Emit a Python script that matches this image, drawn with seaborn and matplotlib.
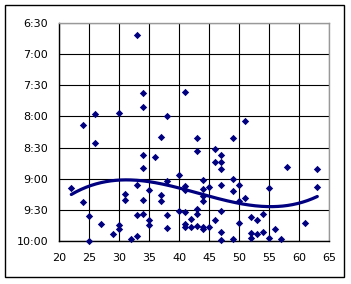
import numpy as np
import pandas as pd
import matplotlib
matplotlib.use("Agg")
import matplotlib.pyplot as plt
from matplotlib.patches import Rectangle
import seaborn as sns

ages = [24, 26, 30, 33, 34, 34, 38, 41, 51, 37, 43, 49, 26, 34, 36, 34, 43, 46, 47, 46,
        47, 47, 58, 63, 40, 38, 44, 49, 22, 33, 35, 31, 31, 34, 37, 37, 41, 41, 44, 45,
        47, 50, 49, 44, 44, 51, 50, 55, 63, 24, 43, 43, 47, 40, 41, 33, 34, 38, 25, 35,
        35, 27, 30, 30, 29, 32, 33, 25, 38, 42, 41, 41, 42, 43, 44, 44, 45, 46, 50, 52,
        53, 54, 47, 47, 49, 52, 52, 53, 54, 55, 56, 57, 61]
times = ["8:08", "7:58", "7:57", "6:41", "7:37", "7:51", "8:00", "7:36", "8:04", "8:20",
         "8:21", "8:21", "8:26", "8:37", "8:39", "8:50", "8:33", "8:31", "8:37", "8:44",
         "8:44", "8:51", "8:49", "8:51", "8:57", "9:02", "9:01", "9:00", "9:09", "9:06",
         "9:11", "9:15", "9:21", "9:21", "9:16", "9:22", "9:07", "9:11", "9:10", "9:08",
         "9:06", "9:06", "9:12", "9:17", "9:22", "9:19", "9:22", "9:09", "9:08", "9:23",
         "9:29", "9:34", "9:31", "9:31", "9:32", "9:35", "9:34", "9:35", "9:36", "9:40",
         "9:45", "9:44", "9:45", "9:49", "9:54", "9:58", "9:55", "10:00", "9:48", "9:39",
         "9:44", "9:47", "9:47", "9:46", "9:47", "9:49", "9:47", "9:40", "9:43", "9:37",
         "9:40", "9:34", "9:52", "9:59", "9:58", "9:53", "9:57", "9:54", "9:52", "9:57",
         "9:49", "9:58", "9:43"]
x_ticks = [20, 25, 30, 35, 40, 45, 50, 55, 60, 65]
y_tick_labels = ["6:30", "7:00", "7:30", "8:00", "8:30", "9:00", "9:30", "10:00"]


def to_min(s):
    h, m = s.split(":")
    return int(h) * 60 + int(m)


df = pd.DataFrame({"age": ages, "minutes": [to_min(t) for t in times]})
y_ticks = [to_min(t) for t in y_tick_labels]

sns.set_style("white")
plt.rcParams["font.family"] = ["DejaVu Sans"]

fig = plt.figure(figsize=(3.51, 2.84), dpi=100)
fig.patch.set_facecolor("white")
ax = fig.add_axes([59.3 / 351, 1 - 240.7 / 284, (329.3 - 59.3) / 351, (240.7 - 23.3) / 284])

navy = "#000080"
# trend line: cubic polynomial fit (Excel-style trendline)
coef = np.polyfit(df["age"], df["minutes"], 3)
xs = np.linspace(df["age"].min(), df["age"].max(), 200)
trend = pd.DataFrame({"age": xs, "minutes": np.polyval(coef, xs)})
sns.lineplot(data=trend, x="age", y="minutes", ax=ax, color=navy, linewidth=2.3,
             zorder=3, sort=False)

sns.scatterplot(data=df, x="age", y="minutes", ax=ax, marker="D", s=14, color=navy,
                linewidth=0, zorder=4, clip_on=False)

ax.set_xlim(20, 65)
ax.set_ylim(y_ticks[-1], y_ticks[0])
ax.set_xticks(x_ticks)
ax.set_xticklabels([str(v) for v in x_ticks])
ax.set_yticks(y_ticks)
ax.set_yticklabels(y_tick_labels)
ax.set_xlabel("")
ax.set_ylabel("")
ax.grid(True, color="black", linewidth=0.8)
ax.set_axisbelow(True)
ax.tick_params(axis="both", length=0, labelsize=8, colors="black")
ax.tick_params(axis="x", pad=9)
ax.tick_params(axis="y", pad=8)
for side in ["left", "bottom"]:
    ax.spines[side].set_color("black")
    ax.spines[side].set_linewidth(1.0)
    ax.spines[side].set_visible(True)
for side in ["top", "right"]:
    ax.spines[side].set_color("#999999")
    ax.spines[side].set_linewidth(1.0)
    ax.spines[side].set_visible(True)

fig.patches.append(Rectangle((4.5 / 351, 1 - 277 / 284), (344 - 4.5) / 351, (277 - 4.5) / 284,
                             transform=fig.transFigure, fill=False, edgecolor="black",
                             linewidth=1.0))

fig.savefig("out.png", dpi=100, facecolor="white")
